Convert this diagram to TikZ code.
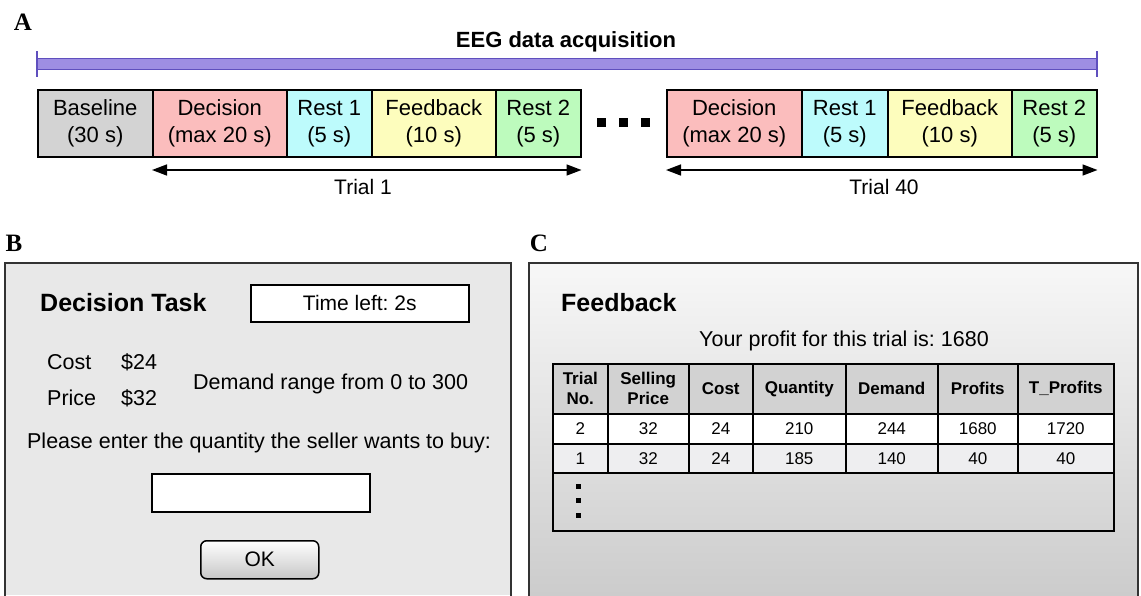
\documentclass[tikz,border=0pt]{standalone}
\usepackage{fontspec}
\setmainfont{Liberation Sans}
\newfontfamily\lblfont{Liberation Serif}
\usetikzlibrary{arrows.meta}
\definecolor{cgray}{HTML}{D3D3D3}
\definecolor{cpink}{HTML}{FBBDBD}
\definecolor{ccyan}{HTML}{BDFBFC}
\definecolor{cyellow}{HTML}{FDFDBD}
\definecolor{cgreen}{HTML}{BDFBBD}
\definecolor{barfill}{HTML}{9E8EE3}
\definecolor{bardraw}{HTML}{5F4FBE}
\definecolor{panelB}{HTML}{E8E8E8}
\definecolor{hgray}{HTML}{D2D2D2}
\definecolor{rowgray}{HTML}{EEEEF0}
\frenchspacing
\begin{document}
\frenchspacing
\begin{tikzpicture}[x=1pt,y=-1pt,
  lbl/.style={inner sep=0pt, font=\lblfont\bfseries\fontsize{25}{25}\selectfont},
  seg/.style={draw, line width=1.5pt, minimum height=67pt, inner sep=0pt, align=center, anchor=north west, font=\fontsize{22}{27}\selectfont},
  txt/.style={inner sep=0pt, font=\fontsize{21.5}{26}\selectfont},
  ttl/.style={inner sep=0pt, font=\bfseries\fontsize{25}{30}\selectfont},
  trialarrow/.style={line width=1.5pt, {Triangle[length=15pt,width=11pt]}-{Triangle[length=15pt,width=11pt]}},
  dotsq/.style={fill=black, inner sep=0pt},
  wbox/.style={draw, line width=1.5pt, fill=white, inner sep=0pt, anchor=north west, font=\fontsize{21}{25}\selectfont},
  hcell/.style={draw, fill=hgray, line width=1.5pt, minimum height=50pt, inner sep=0pt, align=center, anchor=north west, font=\bfseries\fontsize{17}{20}\selectfont},
  dcell/.style={draw, line width=1.5pt, inner sep=0pt, text height=12pt, text depth=0pt, anchor=north west, font=\fontsize{17}{20}\selectfont}
]
\useasboundingbox (0,0) rectangle (1141,595);
% ---------------- Panel A ----------------
\node[lbl] (labA) at (23,22) {A};
\node[draw=bardraw, fill=barfill, line width=1pt, minimum width=1059pt, minimum height=11pt, inner sep=0pt, anchor=north west] (bar) at (37,58) {};
\draw[bardraw, line width=1.5pt] (bar.west) ++(0,-13) -- ++(0,26);
\draw[bardraw, line width=1.5pt] (bar.east) ++(0,-13) -- ++(0,26);
\node[inner sep=0pt, font=\bfseries\fontsize{22}{26}\selectfont] (eeg) at (566,42) {EEG data acquisition};

\node[seg, fill=cgray, minimum width=115pt] (base) at (37,89) {Baseline\\(30 s)};
\node[seg, fill=cpink, minimum width=134pt] (dec1) at (152,89) {Decision\\(max 20 s)};
\node[seg, fill=ccyan, minimum width=85pt] (rsa1) at (286,89) {Rest 1\\(5 s)};
\node[seg, fill=cyellow, minimum width=124pt] (fb1) at (371,89) {Feedback\\(10 s)};
\node[seg, fill=cgreen, minimum width=85pt] (rsb1) at (495,89) {Rest 2\\(5 s)};

\node[dotsq, minimum size=9pt] (d1) at (601,122) {};
\node[dotsq, minimum size=9pt] (d2) at (623,122) {};
\node[dotsq, minimum size=9pt] (d3) at (645,122) {};

\node[seg, fill=cpink, minimum width=135pt] (dec2) at (666,89) {Decision\\(max 20 s)};
\node[seg, fill=ccyan, minimum width=86pt] (rsa2) at (801,89) {Rest 1\\(5 s)};
\node[seg, fill=cyellow, minimum width=124pt] (fb2) at (887,89) {Feedback\\(10 s)};
\node[seg, fill=cgreen, minimum width=85pt] (rsb2) at (1011,89) {Rest 2\\(5 s)};

\coordinate (t1l) at (dec1.south west |- 0,170);
\coordinate (t1r) at (rsb1.south east |- 0,170);
\coordinate (t2l) at (dec2.south west |- 0,170);
\coordinate (t2r) at (rsb2.south east |- 0,170);
\draw[trialarrow] (t1l) -- (t1r);
\draw[trialarrow] (t2l) -- (t2r);
\node[inner sep=0pt, font=\fontsize{21}{25}\selectfont] (tr1) at (363,187) {Trial 1};
\node[inner sep=0pt, font=\fontsize{21}{25}\selectfont] (tr40) at (884,187) {Trial 40};

% ---------------- Panel B ----------------
\node[lbl] (labB) at (14,243) {B};
\fill[panelB] (5,263) rectangle (511,595);
\draw[line width=1.5pt, black!80] (5,596) -- (5,263) -- (511,263) -- (511,596);
\node[ttl, anchor=west] (dtask) at (40,303) {Decision Task};
\node[wbox, minimum width=218pt, minimum height=37pt] (time) at (250,284) {Time left: 2s};
\node[txt, anchor=west] (cost) at (47,362) {Cost};
\node[txt, anchor=west] (cval) at (121,362) {\$24};
\node[txt, anchor=west] (price) at (47,398) {Price};
\node[txt, anchor=west] (pval) at (121,398) {\$32};
\node[txt, anchor=west] (demand) at (193,384) {Demand range from 0 to 300};
\node[txt] (please) at (259,443) {Please enter the quantity the seller wants to buy:};
\node[wbox, minimum width=218pt, minimum height=38pt] (input) at (151,473) {};
\node[draw, line width=1.5pt, rounded corners=6pt, top color=white, bottom color=black!22, minimum width=118pt, minimum height=38pt, inner sep=0pt, anchor=north west, font=\fontsize{21}{25}\selectfont] (ok) at (200,540) {OK};

% ---------------- Panel C ----------------
\node[lbl] (labC) at (539,243) {C};
\shade[top color=black!3, bottom color=black!20] (529,263) rectangle (1138,595);
\draw[line width=1.5pt, black!80] (529,596) -- (529,263) -- (1138,263) -- (1138,596);
\node[ttl, anchor=west] (fbt) at (561,303) {Feedback};
\node[txt] (profit) at (844,341) {Your profit for this trial is: 1680};

\foreach \xl/\xr/\hd/\ra/\rb [count=\i] in {
  552/607/{Trial\\No.}/2/1,
  607/688/{Selling\\Price}/32/32,
  688/752/Cost/24/24,
  752/845/Quantity/210/185,
  845/937/Demand/244/140,
  937/1017/Profits/1680/40,
  1017/1113/{T\_Profits}/1720/40}{
  \pgfmathsetmacro\w{\xr-\xl}
  \node[hcell, minimum width=\w pt] (h\i) at (\xl,363) {\hd};
  \node[dcell, fill=white, minimum width=\w pt, minimum height=30pt] (a\i) at (\xl,413) {\ra};
  \node[dcell, fill=rowgray, minimum width=\w pt, minimum height=29pt] (b\i) at (\xl,443) {\rb};
}
\node[draw, line width=1.5pt, minimum width=561pt, minimum height=58pt, inner sep=0pt, anchor=north west] (more) at (552,472) {};
\node[dotsq, minimum size=5pt] (e1) at (578,486) {};
\node[dotsq, minimum size=5pt] (e2) at (578,500) {};
\node[dotsq, minimum size=5pt] (e3) at (578,515) {};
\end{tikzpicture}
\end{document}
